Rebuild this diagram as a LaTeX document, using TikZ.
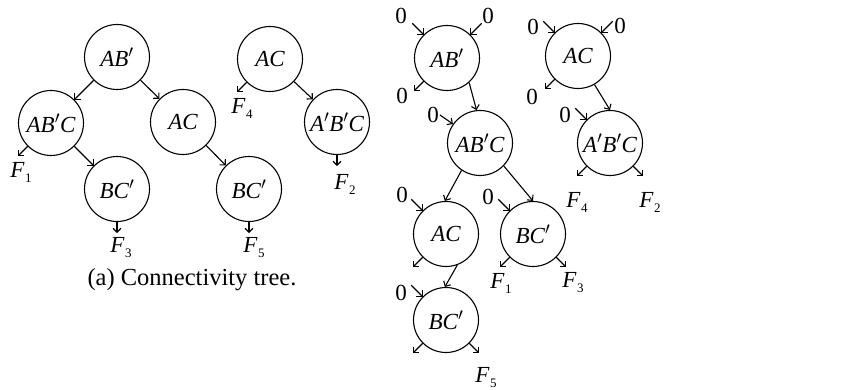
\documentclass[tikz,border=0pt]{standalone}
\usepackage{fontspec}
\setmainfont{Liberation Serif}
\usetikzlibrary{arrows.meta,calc}
\newcommand\lblsize{\fontsize{23}{27}\selectfont}
\newcommand\Fsub[1]{{\itshape F}\kern0.5pt\raisebox{-5pt}{\fontsize{13}{13}\selectfont #1}}
\begin{document}
\begin{tikzpicture}[x=1pt,y=-1pt,
  tn/.style={circle, draw, line width=1.1pt, minimum size=65pt, inner sep=0pt, font=\lblsize\itshape},
  arr/.style={-{Straight Barb[length=4pt,width=8pt]}, line width=1.1pt},
  lab/.style={font=\lblsize, inner sep=0pt}]
\useasboundingbox (0,0) rectangle (843,390);
% ---------- left: connectivity tree ----------
\node[tn] (L1) at (117,57) {AB$'$};
\node[tn] (L2) at (51,123) {AB$'$C};
\node[tn] (L3) at (183,122) {AC};
\node[tn] (L4) at (117,189) {BC$'$};
\node[tn] (L5) at (249,189) {BC$'$};
\node[tn] (L6) at (270,59) {AC};
\node[tn] (L7) at (337,122) {A$'$B$'$C};
\draw[arr] (L1) -- (L2);
\draw[arr] (L1) -- (L3);
\draw[arr] (L2) -- (L4);
\draw[arr] (L3) -- (L5);
\draw[arr] (L6) -- (L7);
\coordinate (L2o) at ($(L2.225)+(225:14pt)$);
\coordinate (L4o) at ($(L4.south)+(0,11)$);
\coordinate (L5o) at ($(L5.south)+(0,11)$);
\coordinate (L6o) at ($(L6.225)+(225:14pt)$);
\coordinate (L7o) at ($(L7.south)+(0,11)$);
\draw[arr] (L2.225) -- (L2o);
\draw[arr] (L4.south) -- (L4o);
\draw[arr] (L5.south) -- (L5o);
\draw[arr] (L6.225) -- (L6o);
\draw[arr] (L7.south) -- (L7o);
\node[lab] (fl1) at (21,172) {\Fsub{1}};
\node[lab] (fl3) at (121,248) {\Fsub{3}};
\node[lab] (fl5) at (254,248) {\Fsub{5}};
\node[lab] (fl4) at (242,108) {\Fsub{4}};
\node[lab] (fl2) at (345,184) {\Fsub{2}};
\node[lab, font=\fontsize{24.5}{28}\selectfont] (cap) at (192,280) {(a) Connectivity tree.};
% ---------- right tree ----------
\node[tn] (R1) at (447,58) {AB$'$};
\node[tn] (R2) at (480,143) {AB$'$C};
\node[tn] (R3) at (446,234) {AC};
\node[tn] (R4) at (533,234) {BC$'$};
\node[tn] (R5) at (446,320) {BC$'$};
\node[tn] (R6) at (578,56) {AC};
\node[tn] (R7) at (610,143) {A$'$B$'$C};
\draw[arr] (R1.312) -- (R2.96);
\draw[arr] (R2.236) -- (R3.92);
\draw[arr] (R2.316) -- (R4.north);
\draw[arr] (R3.290) -- (R5.92);
\draw[arr] (R6.300) -- (R7.north);
% inputs
\foreach \n/\a in {R1/135,R1/45,R2/145,R3/135,R4/135,R5/135,R6/135,R6/45,R7/135}{
  \coordinate (\n in\a) at ($(\n.\a)+(\a:16pt)$);
  \draw[arr] (\n in\a) -- (\n.\a);
}
% outputs
\foreach \n/\a in {R1/225,R3/225,R4/225,R4/315,R5/225,R5/315,R6/225,R7/225,R7/315}{
  \coordinate (\n out\a) at ($(\n.\a)+(\a:14pt)$);
  \draw[arr] (\n.\a) -- (\n out\a);
}
\node[lab] (z1) at (401,16) {0};
\node[lab] (z2) at (488,16) {0};
\node[lab] (z3) at (402,96) {0};
\node[lab] (z4) at (433,115) {0};
\node[lab] (z5) at (402,195) {0};
\node[lab] (z6) at (488,197) {0};
\node[lab] (z7) at (401,293) {0};
\node[lab] (z8) at (533,27) {0};
\node[lab] (z9) at (620,26) {0};
\node[lab] (z10) at (532,97) {0};
\node[lab] (z11) at (565,115) {0};
\node[lab] (fr1) at (501,283) {\Fsub{1}};
\node[lab] (fr3) at (573,283) {\Fsub{3}};
\node[lab] (fr5) at (486,378) {\Fsub{5}};
\node[lab] (fr4) at (577,202) {\Fsub{4}};
\node[lab] (fr2) at (650,202) {\Fsub{2}};
\end{tikzpicture}
\end{document}
